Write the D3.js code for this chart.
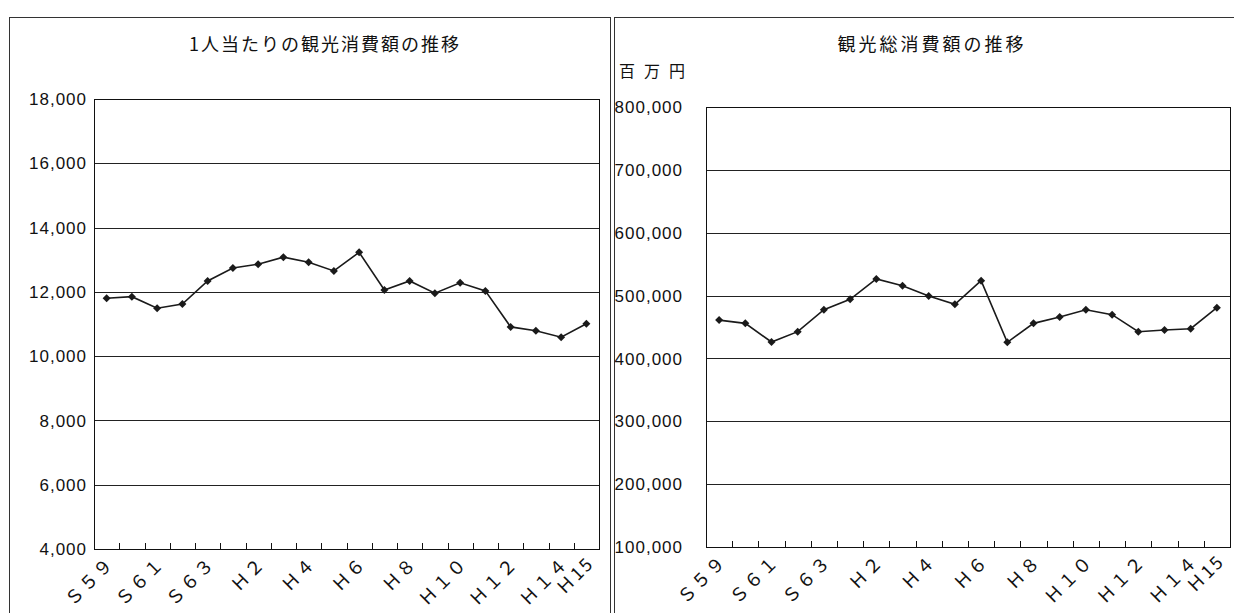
<!DOCTYPE html>
<html>
<head>
<meta charset="utf-8">
<script src="https://cdn.jsdelivr.net/npm/d3@7"></script>
<style>
  body { margin: 0; background: #fff; }
  svg { display: block; }
</style>
</head>
<body>
<div id="chart"></div>
<script>
// Categories (fiscal years) and the tick labels shown under the axis
var years = ["S59", "S60", "S61", "S62", "S63", "H1", "H2", "H3", "H4", "H5",
             "H6", "H7", "H8", "H9", "H10", "H11", "H12", "H13", "H14", "H15"];
var tickLabels = ["Ｓ５９", "", "Ｓ６１", "", "Ｓ６３", "", "Ｈ２", "", "Ｈ４", "",
                  "Ｈ６", "", "Ｈ８", "", "Ｈ１０", "", "Ｈ１２", "", "Ｈ１４", "Ｈ15"];

// 1人当たりの観光消費額 (円)
var perPerson = [11800, 11850, 11490, 11620, 12340, 12740, 12860, 13080, 12920, 12650,
                 13230, 12060, 12340, 11960, 12280, 12030, 10910, 10790, 10590, 11010];
var perPersonTicks = [4000, 6000, 8000, 10000, 12000, 14000, 16000, 18000];

// 観光総消費額 (百万円)
var total = [461000, 455800, 426100, 442600, 477500, 494000, 526400, 515700, 499300, 486100,
             523700, 425600, 455800, 465900, 477500, 469600, 442500, 445200, 447300, 480700];
var totalTicks = [100000, 200000, 300000, 400000, 500000, 600000, 700000, 800000];

var svg = d3.select("#chart")
  .append("svg")
  .attr("width", 1234)
  .attr("height", 613);

// outer frames of the two panels
svg.append("rect")
  .attr("x", 9.5).attr("y", 17.5)
  .attr("width", 601).attr("height", 620)
  .attr("fill", "none").attr("stroke", "#333").attr("stroke-width", 1);
svg.append("rect")
  .attr("x", 614.5).attr("y", 17.5)
  .attr("width", 640).attr("height", 620)
  .attr("fill", "none").attr("stroke", "#333").attr("stroke-width", 1);

function drawPanel(opts) {
  var g = svg.append("g")
    .attr("transform", "translate(" + opts.left + "," + opts.top + ")");
  var w = opts.width, h = opts.height;

  var x = d3.scaleBand().domain(years).range([0, w]).padding(0);
  var y = d3.scaleLinear().domain(opts.domain).range([h, 0]);

  // gridlines
  g.selectAll(".grid")
    .data(opts.ticks)
    .enter().append("line")
    .attr("x1", 0).attr("x2", w)
    .attr("y1", function(d) { return Math.round(y(d)) + 0.5; })
    .attr("y2", function(d) { return Math.round(y(d)) + 0.5; })
    .attr("stroke", "#222")
    .attr("stroke-width", 1);

  // plot frame
  g.append("rect")
    .attr("x", 0.5).attr("y", Math.round(y(opts.domain[1])) + 0.5)
    .attr("width", w).attr("height", Math.round(y(opts.domain[0])) - Math.round(y(opts.domain[1])))
    .attr("fill", "none").attr("stroke", "#111").attr("stroke-width", 1);

  // y labels
  g.selectAll(".ylab")
    .data(opts.ticks)
    .enter().append("text")
    .attr("x", -opts.labelGap)
    .attr("y", function(d) { return y(d); })
    .attr("dy", "0.36em")
    .style("text-anchor", "end")
    .style("font-family", "Liberation Sans, Arial, sans-serif")
    .style("font-size", "17px")
    .style("letter-spacing", "1px")
    .style("fill", "#111")
    .text(function(d) { return d3.format(",")(d); });

  // x tick marks at the category boundaries (pointing up, inside)
  var bounds = years.map(function(d) { return x(d); }).concat([w]);
  g.selectAll(".xtick")
    .data(bounds)
    .enter().append("line")
    .attr("x1", function(d) { return Math.round(d) + 0.5; })
    .attr("x2", function(d) { return Math.round(d) + 0.5; })
    .attr("y1", h).attr("y2", h - 6)
    .attr("stroke", "#111");

  // x labels, rotated
  g.selectAll(".xlab")
    .data(years)
    .enter().append("text")
    .attr("transform", function(d) {
      return "translate(" + (x(d) + x.bandwidth() / 2 - 1) + "," + (h + 6) + ") rotate(-45)";
    })
    .style("text-anchor", "end")
    .attr("dy", "0.75em")
    .style("font-family", "Noto Sans CJK JP, sans-serif")
    .style("font-size", "18px")
    .style("letter-spacing", "2px")
    .style("fill", "#111")
    .text(function(d, i) { return tickLabels[i]; });

  // the line
  var line = d3.line()
    .x(function(d, i) { return x(years[i]) + x.bandwidth() / 2; })
    .y(function(d) { return y(d); });
  g.append("path")
    .datum(opts.values)
    .attr("d", line)
    .attr("fill", "none")
    .attr("stroke", "#1a1a1a")
    .attr("stroke-width", 1.6);

  // diamond markers (squares turned 45 degrees)
  var diamond = d3.symbol().type(d3.symbolSquare).size(32);
  g.selectAll(".pt")
    .data(opts.values)
    .enter().append("path")
    .attr("d", diamond)
    .attr("transform", function(d, i) {
      return "translate(" + (x(years[i]) + x.bandwidth() / 2) + "," + y(d) + ") rotate(45)";
    })
    .attr("fill", "#1a1a1a");

  // title
  svg.append("text")
    .attr("x", opts.titleX)
    .attr("y", 45)
    .attr("dy", "0.35em")
    .style("text-anchor", "middle")
    .style("font-family", "Noto Sans CJK JP, sans-serif")
    .style("font-size", "18px")
    .style("letter-spacing", opts.titleSpacing)
    .style("fill", "#111")
    .text(opts.title);
}

drawPanel({
  left: 94, top: 99, width: 505, height: 450,
  domain: [4000, 18000], ticks: perPersonTicks, values: perPerson,
  labelGap: 7, titleX: 325, titleSpacing: "2px", title: "1人当たりの観光消費額の推移"
});

drawPanel({
  left: 706, top: 107, width: 524, height: 440,
  domain: [100000, 800000], ticks: totalTicks, values: total,
  labelGap: 23, titleX: 932, titleSpacing: "3px", title: "観光総消費額の推移"
});

// unit label
svg.append("text")
  .attr("x", 619)
  .attr("y", 71)
  .attr("dy", "0.35em")
  .style("font-family", "Noto Sans CJK JP, sans-serif")
  .style("font-size", "16px")
  .style("letter-spacing", "9px")
  .style("fill", "#111")
  .text("百万円");
</script>
</body>
</html>
